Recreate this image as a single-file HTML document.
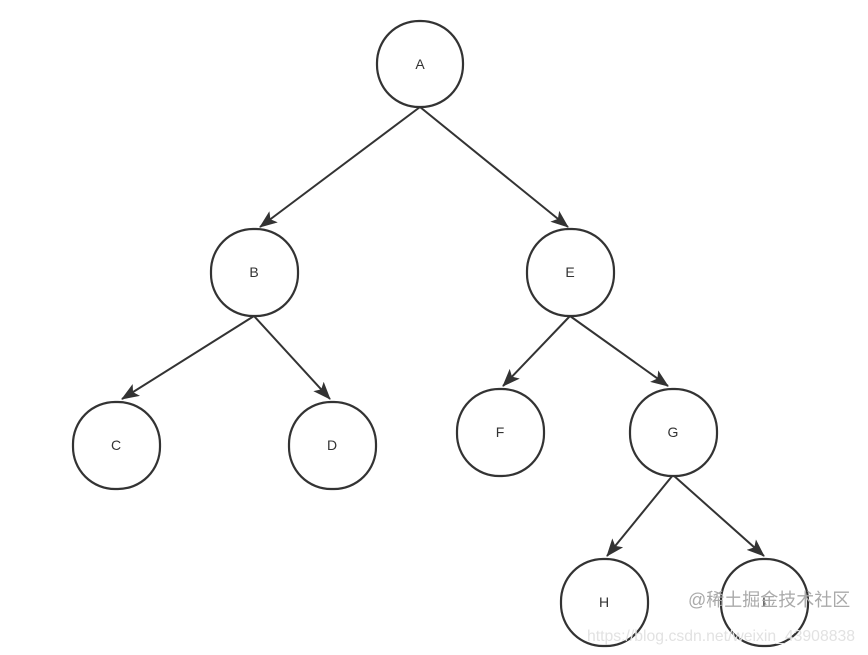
<!DOCTYPE html>
<html><head><meta charset="utf-8"><style>
html,body{margin:0;padding:0;background:#fff;}
svg{display:block}
</style></head><body>
<svg width="868" height="655" viewBox="0 0 868 655" xmlns="http://www.w3.org/2000/svg">
<defs>
<marker id="ar" markerWidth="18" markerHeight="14" refX="17" refY="7" orient="auto" markerUnits="userSpaceOnUse" viewBox="0 0 18 14">
<path d="M0,0 L18,7 L0,14 L4,7 z" fill="#333"/>
</marker>
</defs>
<g stroke="#333" stroke-width="2" fill="none">
<line x1="420" y1="107" x2="260" y2="227" marker-end="url(#ar)"/>
<line x1="420" y1="107" x2="568" y2="227" marker-end="url(#ar)"/>
<line x1="254" y1="316" x2="122" y2="399" marker-end="url(#ar)"/>
<line x1="254" y1="316" x2="330" y2="399" marker-end="url(#ar)"/>
<line x1="570" y1="316" x2="503" y2="386" marker-end="url(#ar)"/>
<line x1="570" y1="316" x2="668" y2="386" marker-end="url(#ar)"/>
<line x1="673" y1="475" x2="607" y2="556" marker-end="url(#ar)"/>
<line x1="673" y1="475" x2="764" y2="556" marker-end="url(#ar)"/>
</g>
<g stroke="#333" stroke-width="2.2" fill="#fff">
<rect x="377" y="21" width="86" height="86" rx="42"/>
<rect x="211" y="229" width="87" height="87" rx="42"/>
<rect x="527" y="229" width="87" height="87" rx="42"/>
<rect x="73" y="402" width="87" height="87" rx="42"/>
<rect x="289" y="402" width="87" height="87" rx="42"/>
<rect x="457" y="389" width="87" height="87" rx="42"/>
<rect x="630" y="389" width="87" height="87" rx="42"/>
<rect x="561" y="559" width="87" height="87" rx="42"/>
<rect x="721" y="559" width="87" height="87" rx="42"/>
</g>
<g font-family="Liberation Sans, sans-serif" font-size="14" fill="#333" text-anchor="middle">
<text x="420" y="69">A</text>
<text x="254" y="277">B</text>
<text x="570" y="277">E</text>
<text x="116" y="450">C</text>
<text x="332" y="450">D</text>
<text x="500" y="437">F</text>
<text x="673" y="437">G</text>
<text x="604" y="607">H</text>
<text x="764" y="607">I</text>
</g>
<text x="587" y="641" font-family="Liberation Sans, sans-serif" font-size="16" fill="#e2e2e2" textLength="268" lengthAdjust="spacingAndGlyphs">https://blog.csdn.net/weixin_43908838</text>
<text x="688" y="606" font-family="Liberation Sans, 'Noto Sans CJK SC', sans-serif" font-size="18" fill="#aaa">@稀土掘金技术社区</text>
</svg>
</body></html>
